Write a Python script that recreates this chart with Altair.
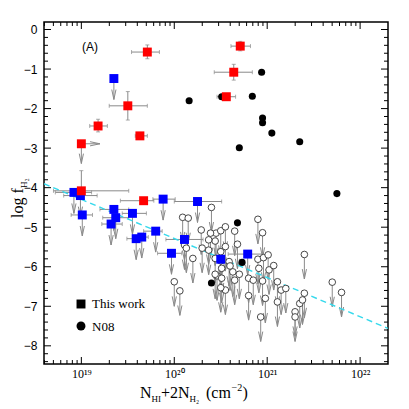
import altair as alt
import pandas as pd
import numpy as np

# ---------------- data (log10 N [cm^-2], log f_H2) ----------------
# This work, detections (red squares) with error bars
red_logN = [19.71, 20.71, 20.64, 20.56, 19.50, 19.18, 19.63, 19.67, 19.00]
red_logf = [-0.57, -0.42, -1.08, -1.70, -1.93, -2.44, -2.69, -4.33, -4.08]
red_N_lo = [19.54, 20.61, 20.43, 20.46, 19.30, 19.09, 19.58, 19.42, 18.70]
red_N_hi = [19.84, 20.82, 20.84, 20.66, 19.71, 19.28, 19.71, 19.78, 19.51]
red_f_lo = [-0.74, -0.54, -1.28, -1.70, -2.29, -2.59, -2.69, -4.38, -4.08]
red_f_hi = [-0.39, -0.30, -0.88, -1.70, -1.57, -2.27, -2.69, -4.28, -3.57]

# This work, limit (red square, upper limit on f, lower limit on N)
redlim_logN = [19.00]
redlim_logf = [-2.89]

# This work, upper limits (blue squares)
blue_logN = [19.35, 18.92, 18.99, 19.01, 19.35, 19.37, 19.32, 19.55, 19.59,
             19.65, 19.80, 19.88, 20.25, 19.97, 20.11, 20.79, 20.50]
blue_logf = [-1.24, -4.12, -4.20, -4.69, -4.55, -4.76, -4.92, -4.65, -5.29,
             -5.25, -5.10, -4.29, -4.35, -5.66, -5.31, -5.68, -5.81]
blue_N_lo = [19.35, 18.72, 18.81, 18.89, 19.20, 19.23, 19.22, 19.44, 19.49,
             19.57, 19.67, 19.77, 20.00, 19.82, 19.91, 20.58, 20.45]
blue_N_hi = [19.35, 19.11, 19.17, 19.12, 19.51, 19.51, 19.44, 19.70, 19.65,
             19.72, 19.87, 20.01, 20.51, 20.08, 20.31, 20.96, 20.56]

# N08 detections (black filled circles)
n08_logN = [20.16, 20.94, 20.51, 20.84, 20.95, 20.95, 21.05, 21.35, 20.70,
            21.75, 20.68, 20.73, 20.40]
n08_logf = [-1.80, -1.08, -1.70, -1.69, -2.24, -2.36, -2.62, -2.84, -2.99,
            -4.15, -4.89, -5.89, -6.41]

# N08 upper limits (open circles)
n08lim_logN = [20.09, 20.15, 20.40, 20.29, 20.45, 20.50, 20.55, 20.11, 20.90,
               20.95, 20.65, 20.68, 20.13, 20.20, 20.00, 20.06, 20.37, 20.30,
               20.44, 20.51, 20.46, 20.51, 20.55, 20.50, 20.59, 20.63, 20.70,
               20.80, 20.85, 20.80, 20.90, 20.96, 21.01, 20.91, 21.02, 21.07,
               20.95, 21.11, 21.15, 21.20, 20.98, 21.11, 20.93, 21.30, 21.30,
               21.35, 21.38, 21.40, 21.70, 21.80, 21.40, 20.44, 20.50, 20.50,
               20.60, 20.65, 20.37, 20.39, 20.44, 20.55]
n08lim_logf = [-4.75, -4.77, -4.50, -5.07, -5.15, -5.09, -4.99, -5.45, -4.80,
               -5.14, -5.10, -5.43, -5.53, -5.79, -6.38, -6.61, -5.58, -5.53,
               -5.79, -6.04, -6.23, -6.29, -6.59, -6.53, -5.87, -6.13, -6.19,
               -6.29, -6.34, -6.73, -5.81, -5.77, -5.70, -6.04, -6.08, -5.97,
               -6.36, -6.38, -6.59, -6.55, -6.80, -6.89, -7.27, -7.14, -7.27,
               -6.93, -6.84, -5.69, -6.39, -6.65, -6.67, -5.35, -5.62, -5.85,
               -5.98, -6.34, -5.32, -5.15, -6.19, -5.49]

# Fit line (dashed cyan)
fit_logN = [18.598, 22.30]
fit_logf = [-3.90, -7.56]

# Axis tick labels
x_major = [19, 20, 21, 22]
x_labels = ["10¹⁹", "10²⁰", "10²¹", "10²²"]
y_major = [0, -1, -2, -3, -4, -5, -6, -7, -8]

# ---------------- layout ----------------
W, H = 344, 342
XDOM = [18.598, 22.30]
YDOM = [-8.46, 0.19]
GRAY = "#8a8a8a"
xs = alt.Scale(domain=XDOM, nice=False, zero=False)
ys = alt.Scale(domain=YDOM, nice=False, zero=False)

label_expr = " : ".join(
    [f"datum.value == {v} ? '{l}'" for v, l in zip(x_major[:-1], x_labels[:-1])]
) + f" : '{x_labels[-1]}'"

XAXIS = alt.Axis(values=x_major, labelExpr=label_expr, ticks=False,
                 domain=False, grid=False, title=None,
                 labelFont="Liberation Serif", labelFontSize=12,
                 labelColor="black", labelPadding=4)
YAXIS = alt.Axis(values=y_major, ticks=False, domain=False, grid=False,
                 title=None, labelFont="Liberation Sans",
                 labelFontSize=12, labelColor="black", labelPadding=7)


def X(field):
    return alt.X(field, type="quantitative", scale=xs, axis=XAXIS)


def Y(field):
    return alt.Y(field, type="quantitative", scale=ys, axis=YAXIS)


red = pd.DataFrame(dict(x=red_logN, y=red_logf, xlo=red_N_lo, xhi=red_N_hi,
                        ylo=red_f_lo, yhi=red_f_hi))
red_yerr = red[red.ylo != red.yhi]
red_xerr = red[red.xlo != red.xhi]
blue = pd.DataFrame(dict(x=blue_logN, y=blue_logf, xlo=blue_N_lo, xhi=blue_N_hi))
blue_xerr = blue[blue.xlo != blue.xhi]
redlim = pd.DataFrame(dict(x=redlim_logN, y=redlim_logf))
n08 = pd.DataFrame(dict(x=n08_logN, y=n08_logf))
n08lim = pd.DataFrame(dict(x=n08lim_logN, y=n08lim_logf))
fit = pd.DataFrame(dict(x=fit_logN, y=fit_logf))

# down arrows
arr = pd.concat([
    pd.DataFrame(dict(x=blue.x, y=blue.y, yend=blue.y - 0.53)),
    pd.DataFrame(dict(x=redlim.x, y=redlim.y, yend=redlim.y - 0.50)),
    pd.DataFrame(dict(x=n08lim.x, y=n08lim.y, yend=n08lim.y - 0.62)),
], ignore_index=True)
rarr = pd.DataFrame(dict(x=redlim.x, y=redlim.y, xend=redlim.x + 0.20))

DOWN_HEAD = "M-0.7,-3.3L0,0L0.7,-3.3"
RIGHT_HEAD = "M-3.3,-0.7L0,0L-3.3,0.7"
VCAP = "M0,-1L0,1"
HCAP = "M-1,0L1,0"

layers = []

# error bars
layers.append(alt.Chart(red_xerr).mark_rule(color=GRAY, strokeWidth=1).encode(
    x=X("xlo"), x2="xhi", y=Y("y")))
layers.append(alt.Chart(blue_xerr).mark_rule(color=GRAY, strokeWidth=1).encode(
    x=X("xlo"), x2="xhi", y=Y("y")))
layers.append(alt.Chart(red_yerr).mark_rule(color=GRAY, strokeWidth=1).encode(
    x=X("x"), y=Y("ylo"), y2="yhi"))
for df in (red_xerr, blue_xerr):
    for col in ("xlo", "xhi"):
        layers.append(alt.Chart(df).mark_point(shape=VCAP, size=16, color=GRAY,
                                               strokeWidth=1, filled=False).encode(
            x=X(col), y=Y("y")))
for col in ("ylo", "yhi"):
    layers.append(alt.Chart(red_yerr).mark_point(shape=HCAP, size=16, color=GRAY,
                                                 strokeWidth=1, filled=False).encode(
        x=X("x"), y=Y(col)))

# arrows
layers.append(alt.Chart(arr).mark_rule(color=GRAY, strokeWidth=1).encode(
    x=X("x"), y=Y("y"), y2="yend"))
layers.append(alt.Chart(arr).mark_point(shape=DOWN_HEAD, size=36, color=GRAY,
                                        strokeWidth=1, filled=False, opacity=1).encode(
    x=X("x"), y=Y("yend")))
layers.append(alt.Chart(rarr).mark_rule(color=GRAY, strokeWidth=1).encode(
    x=X("x"), x2="xend", y=Y("y")))
layers.append(alt.Chart(rarr).mark_point(shape=RIGHT_HEAD, size=36, color=GRAY,
                                         strokeWidth=1, filled=False, opacity=1).encode(
    x=X("xend"), y=Y("y")))

# fit line
layers.append(alt.Chart(fit).mark_line(color="#35d9ec", strokeWidth=1.4,
                                       strokeDash=[6, 4], clip=True).encode(
    x=X("x"), y=Y("y")))

# markers
layers.append(alt.Chart(n08lim).mark_point(shape="circle", size=44, fill="white",
                                           stroke="#333333", strokeWidth=0.9,
                                           filled=False, opacity=1, fillOpacity=1).encode(
    x=X("x"), y=Y("y")))
layers.append(alt.Chart(n08).mark_point(shape="circle", size=50, filled=True,
                                        color="black", opacity=1).encode(
    x=X("x"), y=Y("y")))
layers.append(alt.Chart(blue).mark_point(shape="square", size=80, filled=True,
                                         color="#0000ff", opacity=1).encode(
    x=X("x"), y=Y("y")))
layers.append(alt.Chart(pd.concat([red[["x", "y"]], redlim])).mark_point(
    shape="square", size=80, filled=True, color="#ff0000", opacity=1).encode(
    x=X("x"), y=Y("y")))

# ---------------- inward ticks on all four sides ----------------
x_minor = [np.log10(k) + d for d in range(18, 23) for k in range(2, 10)]
x_minor = [v for v in x_minor if XDOM[0] <= v <= XDOM[1]]
y_minor = [round(v, 1) for v in np.arange(-8.4, 0.2, 0.2) if round(v, 1) not in y_major]
xM = pd.DataFrame(dict(x=x_major))
xm = pd.DataFrame(dict(x=x_minor))
yM = pd.DataFrame(dict(y=y_major))
ym = pd.DataFrame(dict(y=y_minor))
for df, ln in ((xM, 7), (xm, 4)):
    layers.append(alt.Chart(df).mark_rule(color="black", strokeWidth=1).encode(
        x=X("x"), y=alt.value(H), y2=alt.value(H - ln)))
    layers.append(alt.Chart(df).mark_rule(color="black", strokeWidth=1).encode(
        x=X("x"), y=alt.value(0), y2=alt.value(ln)))
for df, ln in ((yM, 7), (ym, 4)):
    layers.append(alt.Chart(df).mark_rule(color="black", strokeWidth=1).encode(
        y=Y("y"), x=alt.value(0), x2=alt.value(ln)))
    layers.append(alt.Chart(df).mark_rule(color="black", strokeWidth=1).encode(
        y=Y("y"), x=alt.value(W), x2=alt.value(W - ln)))

# ---------------- texts ----------------
one = pd.DataFrame({"a": [0]})


def txt(s, x, y, size, font="Liberation Serif", angle=0, align="left"):
    return alt.Chart(one).mark_text(text=s, font=font, fontSize=size, angle=angle,
                                    align=align, baseline="alphabetic",
                                    color="black").encode(
        x=alt.value(x), y=alt.value(y))


layers += [
    txt("(A)", 38, 29, 12, font="Liberation Sans"),
    # legend
    txt("This work", 48, 286, 13),
    txt("N08", 48, 309, 13),
    # x title (pieces with sub/superscripts)
    txt("N", 96, 376, 16),
    txt("HI", 107.5, 380, 9),
    txt("+2N", 117, 376, 16),
    txt("H₂", 145.5, 380, 9),
    txt("(cm", 162, 376, 16),
    txt("−2", 187.5, 369, 10),
    txt(")", 198.5, 376, 16),
    # y title
    txt("log f", -21, 196, 16, angle=270),
    txt("H₂", -17, 166, 9, angle=270),
]
legend_sym = pd.DataFrame({"a": [0]})
layers.append(alt.Chart(legend_sym).mark_point(shape="square", size=80, filled=True,
                                               color="black", opacity=1).encode(
    x=alt.value(37), y=alt.value(282)))
layers.append(alt.Chart(legend_sym).mark_point(shape="circle", size=80, filled=True,
                                               color="black", opacity=1).encode(
    x=alt.value(37), y=alt.value(304)))

chart = alt.layer(*layers).properties(
    width=W, height=H, autosize="none",
    padding={"left": 36, "top": 14, "right": 13, "bottom": 44},
).configure_view(stroke="black", strokeWidth=1.5)

chart.save("out.html", embed_options={"renderer": "svg", "actions": False})
